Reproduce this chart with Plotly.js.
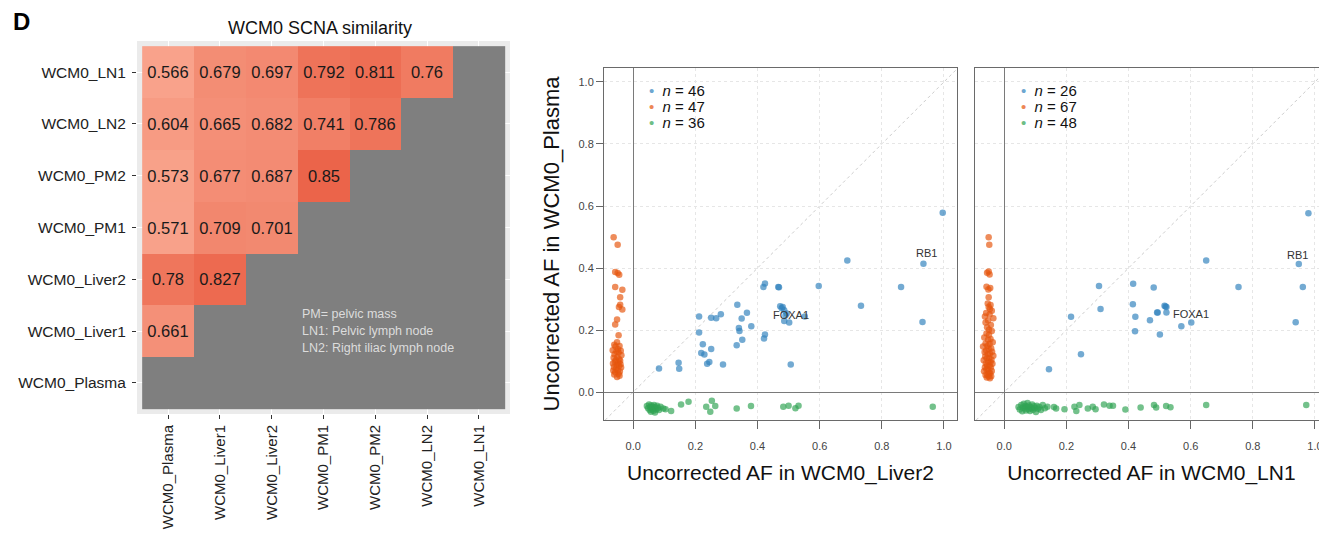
<!DOCTYPE html>
<html>
<head>
<meta charset="utf-8">
<script src="https://cdn.plot.ly/plotly-3.0.1.min.js"></script>
<style>
html,body{margin:0;padding:0;overflow:hidden;background:#fff;}
#chart{width:1340px;height:536px;}
</style>
</head>
<body>
<div id="chart"></div>
<script>
// ---------- Heatmap data ----------
var rowLabels = ['WCM0_LN1','WCM0_LN2','WCM0_PM2','WCM0_PM1','WCM0_Liver2','WCM0_Liver1','WCM0_Plasma'];
var colLabels = ['WCM0_Plasma','WCM0_Liver1','WCM0_Liver2','WCM0_PM1','WCM0_PM2','WCM0_LN2','WCM0_LN1'];
var simLN1    = [0.566, 0.679, 0.697, 0.792, 0.811, 0.76, null];
var simLN2    = [0.604, 0.665, 0.682, 0.741, 0.786, null, null];
var simPM2    = [0.573, 0.677, 0.687, 0.85, null, null, null];
var simPM1    = [0.571, 0.709, 0.701, null, null, null, null];
var simLiver2 = [0.78, 0.827, null, null, null, null, null];
var simLiver1 = [0.661, null, null, null, null, null, null];
var simPlasma = [null, null, null, null, null, null, null];
var noteLines = ['PM= pelvic mass','LN1: Pelvic lymph node','LN2: Right iliac lymph node'];

// ---------- Scatter panel 1 (x: Liver2, y: Plasma) ----------
var p1BothX = [0.996,0.689,0.934,0.424,0.419,0.467,0.469,0.597,0.862,0.733,0.335,0.366,0.473,0.481,0.486,0.494,0.486,0.502,0.552,0.931,0.212,0.251,0.267,0.282,0.349,0.340,0.342,0.380,0.212,0.424,0.421,0.351,0.333,0.224,0.251,0.219,0.229,0.245,0.238,0.289,0.507,0.146,0.148,0.083,0.478,0.490];
var p1BothY = [0.578,0.424,0.414,0.350,0.339,0.339,0.338,0.342,0.339,0.278,0.282,0.256,0.277,0.274,0.264,0.253,0.229,0.224,0.244,0.226,0.244,0.240,0.238,0.251,0.237,0.207,0.197,0.212,0.192,0.186,0.173,0.169,0.151,0.154,0.139,0.126,0.121,0.097,0.091,0.089,0.089,0.095,0.075,0.076,0.270,0.247];
var p1PlasmaOnlyX = [-0.063,-0.050,-0.058,-0.050,-0.045,-0.058,-0.035,-0.042,-0.042,-0.046,-0.035,-0.052,-0.058,-0.047,
  -0.052,-0.061,-0.044,-0.057,-0.049,-0.066,-0.040,-0.054,-0.047,-0.060,-0.038,-0.051,-0.063,-0.045,-0.056,-0.042,-0.059,-0.048,-0.065,-0.041,-0.053,-0.046,-0.062,-0.039,-0.055,-0.050,-0.064,-0.043,-0.058,-0.047,-0.061,-0.044,-0.052];
var p1PlasmaOnlyY = [0.499,0.475,0.387,0.384,0.378,0.339,0.330,0.306,0.282,0.274,0.266,0.234,0.218,0.183,
  0.161,0.153,0.149,0.147,0.138,0.135,0.133,0.131,0.128,0.122,0.119,0.113,0.111,0.106,0.103,0.101,0.098,0.095,0.092,0.090,0.087,0.084,0.081,0.079,0.076,0.071,0.070,0.066,0.064,0.059,0.057,0.053,0.049];
var p1TissueOnlyX = [0.044,0.048,0.051,0.053,0.055,0.057,0.058,0.060,0.062,0.063,0.065,0.067,0.068,0.070,0.072,0.074,0.077,0.080,0.083,0.088,
  0.097,0.104,0.122,0.154,0.178,0.235,0.248,0.253,0.264,0.333,0.379,0.483,0.500,0.522,0.532,0.964];
var p1TissueOnlyY = [-0.045,-0.052,-0.040,-0.058,-0.048,-0.063,-0.043,-0.055,-0.050,-0.047,-0.060,-0.042,-0.053,-0.066,-0.049,-0.056,-0.044,-0.051,-0.058,-0.047,
  -0.053,-0.055,-0.061,-0.040,-0.031,-0.047,-0.063,-0.028,-0.045,-0.053,-0.045,-0.047,-0.044,-0.052,-0.044,-0.047];

// ---------- Scatter panel 2 (x: LN1, y: Plasma) ----------
var p2BothX = [0.979,0.650,0.948,0.305,0.415,0.481,0.754,0.961,0.310,0.414,0.516,0.522,0.492,0.494,0.522,0.422,0.215,0.469,0.570,0.602,0.938,0.421,0.501,0.247,0.144,0.519];
var p2BothY = [0.577,0.424,0.413,0.342,0.349,0.337,0.339,0.339,0.268,0.283,0.278,0.274,0.257,0.257,0.257,0.243,0.243,0.232,0.212,0.224,0.225,0.196,0.186,0.122,0.074,0.276];
var p2PlasmaOnlyX = [-0.050,-0.048,-0.050,-0.055,-0.047,-0.057,-0.045,-0.051,-0.050,-0.053,-0.044,-0.050,-0.046,-0.040,-0.058,-0.047,-0.062,-0.035,-0.052,-0.060,-0.043,-0.055,-0.049,
  -0.040,-0.057,-0.049,-0.064,-0.044,-0.052,-0.037,-0.060,-0.047,-0.054,-0.068,-0.042,-0.050,-0.058,-0.039,-0.063,-0.046,-0.053,-0.035,-0.061,-0.048,-0.056,-0.041,-0.066,-0.051,-0.044,-0.059,-0.038,-0.055,-0.047,-0.062,-0.043,-0.052,-0.057,-0.040,-0.065,-0.049,-0.045,-0.054,-0.060,-0.042,-0.050,-0.056,-0.046];
var p2PlasmaOnlyY = [0.499,0.475,0.389,0.385,0.379,0.340,0.336,0.331,0.306,0.286,0.281,0.274,0.268,0.262,0.255,0.250,0.244,0.238,0.231,0.224,0.216,0.209,0.201,
  0.197,0.189,0.185,0.176,0.171,0.169,0.161,0.157,0.155,0.149,0.147,0.141,0.140,0.134,0.130,0.129,0.124,0.122,0.117,0.115,0.110,0.109,0.104,0.103,0.098,0.097,0.092,0.091,0.086,0.085,0.080,0.079,0.074,0.073,0.068,0.067,0.062,0.061,0.056,0.055,0.051,0.050,0.047,0.045];
var p2TissueOnlyX = [0.046,0.050,0.055,0.058,0.060,0.063,0.066,0.068,0.070,0.073,0.075,0.078,0.080,0.083,0.085,0.088,0.090,0.093,0.096,0.099,0.102,0.105,0.109,0.113,0.118,0.124,0.131,0.139,
  0.160,0.167,0.194,0.226,0.232,0.242,0.269,0.285,0.294,0.321,0.339,0.350,0.390,0.439,0.482,0.489,0.521,0.535,0.650,0.972];
var p2TissueOnlyY = [-0.048,-0.056,-0.042,-0.062,-0.050,-0.038,-0.053,-0.045,-0.059,-0.047,-0.035,-0.055,-0.043,-0.061,-0.049,-0.052,-0.040,-0.057,-0.046,-0.051,-0.064,-0.044,-0.054,-0.048,-0.058,-0.042,-0.052,-0.047,
  -0.048,-0.053,-0.055,-0.047,-0.061,-0.042,-0.053,-0.047,-0.055,-0.040,-0.044,-0.044,-0.056,-0.050,-0.042,-0.050,-0.045,-0.049,-0.042,-0.042];

// gene labels
var geneNames = ['RB1','FOXA1'];
var p1LabelX = [0.943, 0.509];
var p1LabelY = [0.448, 0.248];
var p2LabelX = [0.943, 0.602];
var p2LabelY = [0.442, 0.252];

var axisTickVals = [0, 0.2, 0.4, 0.6, 0.8, 1.0];
var xTitles = ['Uncorrected AF in WCM0_Liver2', 'Uncorrected AF in WCM0_LN1'];
var yTitle = 'Uncorrected AF in WCM0_Plasma';

// ---------- build ----------
var W = 1340, H = 536;
function fx(px){ return px / W; }
function fy(py){ return 1 - py / H; }

var zVals = [simLN1, simLN2, simPM2, simPM1, simLiver2, simLiver1, simPlasma];
var naMask = zVals.map(function(r){ return r.map(function(v){ return v === null ? 1 : null; }); });

var colBlue = '#3182bd', colOrange = '#e6550d', colGreen = '#31a354';
function pts(x, y, color, xa, ya){
  return {type:'scatter', mode:'markers', x:x, y:y, xaxis:xa, yaxis:ya,
    marker:{color:color, size:6.5, opacity:0.68, line:{width:0}}, hoverinfo:'x+y', showlegend:false, cliponaxis:true};
}

var data = [
  {type:'heatmap', x:colLabels, y:rowLabels, z:naMask, xaxis:'x', yaxis:'y',
   colorscale:[[0,'#7f7f7f'],[1,'#7f7f7f']], showscale:false, hoverinfo:'skip', xgap:0, ygap:0},
  {type:'heatmap', x:colLabels, y:rowLabels, z:zVals, xaxis:'x', yaxis:'y',
   colorscale:[[0,'#F9A38C'],[0.5,'#F2876E'],[1,'#EB6247']], zmin:0.56, zmax:0.86,
   showscale:false, texttemplate:'%{z}', textfont:{size:16.5, color:'#1a1a1a', family:'Liberation Sans, Arial, sans-serif'},
   xgap:0, ygap:0, hoverongaps:false},
  pts(p1BothX, p1BothY, colBlue, 'x2', 'y2'),
  pts(p1PlasmaOnlyX, p1PlasmaOnlyY, colOrange, 'x2', 'y2'),
  pts(p1TissueOnlyX, p1TissueOnlyY, colGreen, 'x2', 'y2'),
  pts(p2BothX, p2BothY, colBlue, 'x3', 'y3'),
  pts(p2PlasmaOnlyX, p2PlasmaOnlyY, colOrange, 'x3', 'y3'),
  pts(p2TissueOnlyX, p2TissueOnlyY, colGreen, 'x3', 'y3')
];

var annotations = [];
annotations.push({text:'<b>D</b>', xref:'paper', yref:'paper', x:fx(11), y:fy(22), xanchor:'left', yanchor:'middle',
  showarrow:false, font:{size:24, color:'#000'}});
noteLines.forEach(function(t, i){
  annotations.push({text:t, xref:'x', yref:'y', x:2.55, y:4.66 + i*0.33, xanchor:'left', yanchor:'middle',
    showarrow:false, font:{size:12.5, color:'#dcdcdc'}});
});
function addLegend(counts, leftPx){
  var cols = [colBlue, colOrange, colGreen];
  counts.forEach(function(n, i){
    annotations.push({text:'<span style="color:' + cols[i] + ';opacity:0.7">\u2022</span>\u00a0 <i>n</i> = ' + n,
      xref:'paper', yref:'paper', x:fx(leftPx), y:fy(90.5 + i*16), xanchor:'left', yanchor:'middle',
      showarrow:false, font:{size:15, color:'#111'}, borderpad:0});
  });
}
addLegend([p1BothX.length, p1PlasmaOnlyX.length, p1TissueOnlyX.length], 648);
addLegend([p2BothX.length, p2PlasmaOnlyX.length, p2TissueOnlyX.length], 1020);
geneNames.forEach(function(g, i){
  annotations.push({text:g, xref:'x2', yref:'y2', x:p1LabelX[i], y:p1LabelY[i], showarrow:false,
    font:{size:11, color:'#333'}});
  annotations.push({text:g, xref:'x3', yref:'y3', x:p2LabelX[i], y:p2LabelY[i], showarrow:false,
    font:{size:11, color:'#333'}});
});

var shapes = [
  {type:'rect', xref:'x domain', yref:'y domain', x0:0, x1:1, y0:0, y1:1, fillcolor:'#EBEBEB', line:{width:0}, layer:'below'},
  {type:'line', xref:'x2', yref:'y2', x0:-0.09, y0:-0.09, x1:1.045, y1:1.045, line:{color:'#cccccc', width:1, dash:'3px,3px'}, layer:'below'},
  {type:'line', xref:'x3', yref:'y3', x0:-0.09, y0:-0.09, x1:1.045, y1:1.045, line:{color:'#cccccc', width:1, dash:'3px,3px'}, layer:'below'}
];

function sAxisX(domain, anchor, title){
  return {domain:domain, anchor:anchor, range:[-0.094, 1.042], tickvals:axisTickVals, tickformat:'.1f',
    ticks:'outside', ticklen:8, tickcolor:'#666', tickwidth:1, ticklabelstandoff:8,
    tickfont:{size:11, color:'#444', family:'Liberation Sans Narrow, Liberation Sans, Arial, sans-serif'},
    showline:true, mirror:true, linecolor:'#6a6a6a', linewidth:1,
    showgrid:true, gridcolor:'#e6e6e6', griddash:'dot', gridwidth:1,
    zeroline:true, zerolinecolor:'#7a7a7a', zerolinewidth:1,
    title:{text:title, font:{size:21, color:'#111'}, standoff:14}};
}

var layout = {
  width:W, height:H, margin:{l:0, r:0, t:0, b:0, pad:0},
  paper_bgcolor:'#fff', plot_bgcolor:'#fff', showlegend:false,
  font:{family:'Liberation Sans, Arial, sans-serif'},
  title:{text:'WCM0 SCNA similarity', xref:'paper', yref:'paper', x:fx(320), y:fy(28), xanchor:'center', yanchor:'middle',
    font:{size:18, color:'#111'}},
  xaxis:{domain:[fx(137), fx(510)], anchor:'y', type:'category', categoryorder:'array', categoryarray:colLabels,
    range:[-0.6, 6.6], showgrid:true, gridcolor:'#fff', gridwidth:1, zeroline:false, showline:false,
    ticks:'outside', ticklen:4, tickcolor:'#333', tickwidth:1, tickangle:-90,
    tickfont:{size:15, color:'#222'}, fixedrange:true},
  yaxis:{domain:[fy(414), fy(41)], anchor:'x', type:'category', categoryorder:'array', categoryarray:rowLabels,
    range:[6.6, -0.6], showgrid:true, gridcolor:'#fff', gridwidth:1, zeroline:false, showline:false,
    ticks:'outside', ticklen:4, tickcolor:'#333', tickwidth:1, ticklabelstandoff:3,
    tickfont:{size:15.5, color:'#222'}, fixedrange:true},
  xaxis2:sAxisX([fx(604), fx(957)], 'y2', xTitles[0]),
  xaxis3:sAxisX([fx(975), fx(1328)], 'y3', xTitles[1]),
  yaxis2:{domain:[fy(420), fy(68)], anchor:'x2', range:[-0.09, 1.045], tickvals:axisTickVals, tickformat:'.1f',
    ticks:'outside', ticklen:7, tickcolor:'#666', tickwidth:1,
    tickfont:{size:11, color:'#444', family:'Liberation Sans Narrow, Liberation Sans, Arial, sans-serif'},
    showline:true, mirror:true, linecolor:'#6a6a6a', linewidth:1,
    showgrid:true, gridcolor:'#e6e6e6', griddash:'dot', gridwidth:1,
    zeroline:true, zerolinecolor:'#7a7a7a', zerolinewidth:1,
    title:{text:yTitle, font:{size:22, color:'#111'}, standoff:12}},
  yaxis3:{domain:[fy(420), fy(68)], anchor:'x3', matches:'y2', range:[-0.09, 1.045], tickvals:axisTickVals,
    showticklabels:false, ticks:'',
    showline:true, mirror:true, linecolor:'#6a6a6a', linewidth:1,
    showgrid:true, gridcolor:'#e6e6e6', griddash:'dot', gridwidth:1,
    zeroline:true, zerolinecolor:'#7a7a7a', zerolinewidth:1},
  annotations:annotations,
  shapes:shapes
};

Plotly.newPlot('chart', data, layout, {displayModeBar:false, staticPlot:true});
</script>
</body>
</html>
